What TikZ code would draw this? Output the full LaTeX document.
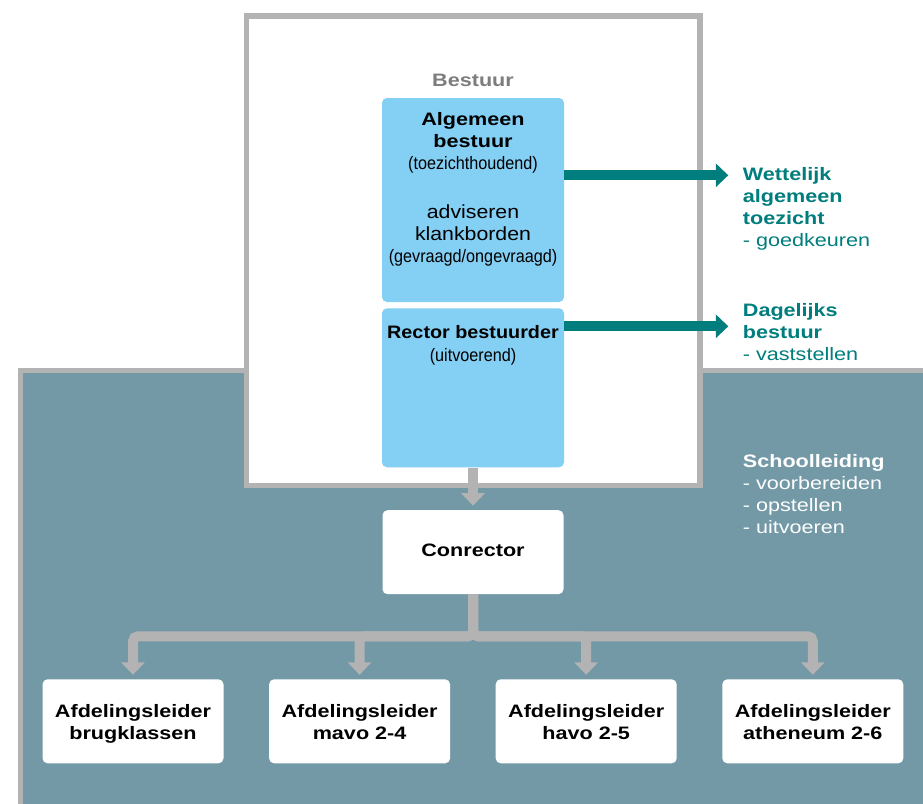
\documentclass[tikz,border=0pt]{standalone}
\usepackage{fontspec}
\setmainfont{Liberation Sans}
\newfontfamily\widefont[FakeStretch=1.2]{Liberation Sans}
\newfontfamily\rectorfont[FakeStretch=1.1]{Liberation Sans}
\newfontfamily\midfont[FakeStretch=1.12]{Liberation Sans}
\newfontfamily\narrowfont[FakeStretch=0.9]{Liberation Sans}
\usetikzlibrary{arrows.meta,calc}
\definecolor{lijngrijs}{RGB}{179,179,179}
\definecolor{paneelblauw}{RGB}{115,153,166}
\definecolor{vakblauw}{RGB}{132,207,244}
\definecolor{petrol}{RGB}{0,125,125}
\definecolor{kopgrijs}{RGB}{125,125,125}

\begin{document}
\begin{tikzpicture}[x=1pt, y=-1pt,
        vak/.style={fill=vakblauw, rounded corners=5pt, minimum width=182pt, inner sep=0pt},
        witvak/.style={fill=white, rounded corners=5pt, minimum width=181pt, minimum height=84pt, inner sep=0pt, align=center, font=\widefont\bfseries\fontsize{18}{21.5}\selectfont},
        vaktekst/.style={anchor=north, inner sep=0pt, align=center, font=\widefont\bfseries\fontsize{18}{22}\selectfont},
        zijtekst/.style={anchor=north west, inner sep=0pt, align=left, font=\widefont\fontsize{18}{21.8}\selectfont},
        pijl/.style={line width=10pt, -{Triangle[length=12.5pt, width=23pt]}}]
        \path[use as bounding box, fill=white](0,0) rectangle (923,803);

        % schoolleiding panel
        \path[draw=lijngrijs, line width=5pt, fill=paneelblauw](20,370) rectangle (935,815);
        % bestuur frame
        \path[draw=lijngrijs, line width=5.5pt, fill=white](246.3,16.2) rectangle (699.8,485.5);
        \node[vaktekst, anchor=base, text=kopgrijs] (bestuur) at (473,86) {Bestuur};

        % blue boxes
        \node[vak, minimum height=204pt] (alg) at (473,200) {};
        \node[vak, minimum height=159pt] (rector) at (473,387.8) {};
        \node[vaktekst] (algtekst) at (473,112.6) {Algemeen\\bestuur\\{\narrowfont\mdseries (toezichthoudend)}\\[27pt]{\midfont\mdseries\fontsize{19}{22}\selectfont adviseren}\\{\midfont\mdseries\fontsize{19}{22}\selectfont klankborden}\\{\narrowfont\mdseries (gevraagd/ongevraagd)}};
        \node[vaktekst] (rectortekst) at (473,325.2) {{\rectorfont Rector bestuurder}\\[1pt]{\narrowfont\mdseries (uitvoerend)}};

        % teal arrows
        \coordinate (wet) at (728.3,175.3);
        \coordinate (dag) at (728.3,326.3);
        \path[draw=petrol, pijl](alg.east |- wet) to (wet);
        \path[draw=petrol, pijl](rector.east |- dag) to (dag);
        \node[zijtekst, text=petrol] (toezicht) at (742.7,167.6) {{\bfseries Wettelijk}\\{\bfseries algemeen}\\{\bfseries toezicht}\\- goedkeuren};
        \node[zijtekst, text=petrol] (dagelijks) at (742.7,303.6) {{\bfseries Dagelijks}\\{\bfseries bestuur}\\- vaststellen};
        \node[zijtekst, text=white] (schoolleiding) at (742.7,454.5) {{\bfseries Schoolleiding}\\- voorbereiden\\- opstellen\\- uitvoeren};

        % conrector and afdelingsleiders
        \node[witvak] (con) at (473,552.2) {Conrector\rule[-4pt]{0pt}{4pt}};
        \foreach \x/\naam/\tekst in {133/afd1/brugklassen, 359.6/afd2/mavo 2-4, 586.2/afd3/havo 2-5, 812.8/afd4/atheneum 2-6}
            \node[witvak] (\naam) at (\x,721.3) {Afdelingsleider\rule{0pt}{18.3pt}\\\tekst\rule[-4pt]{0pt}{4pt}};

        % grey arrows
        \path[draw=lijngrijs, pijl, shorten >=4.3pt](rector.south) to (con.north);
        \foreach \n in {1,...,4}
            \path[draw=lijngrijs, pijl, rounded corners=5pt, shorten >=4.3pt](con.south) |- ($(afd\n.north)+(0,-42.8)$) -- (afd\n.north);
\end{tikzpicture}
\end{document}
